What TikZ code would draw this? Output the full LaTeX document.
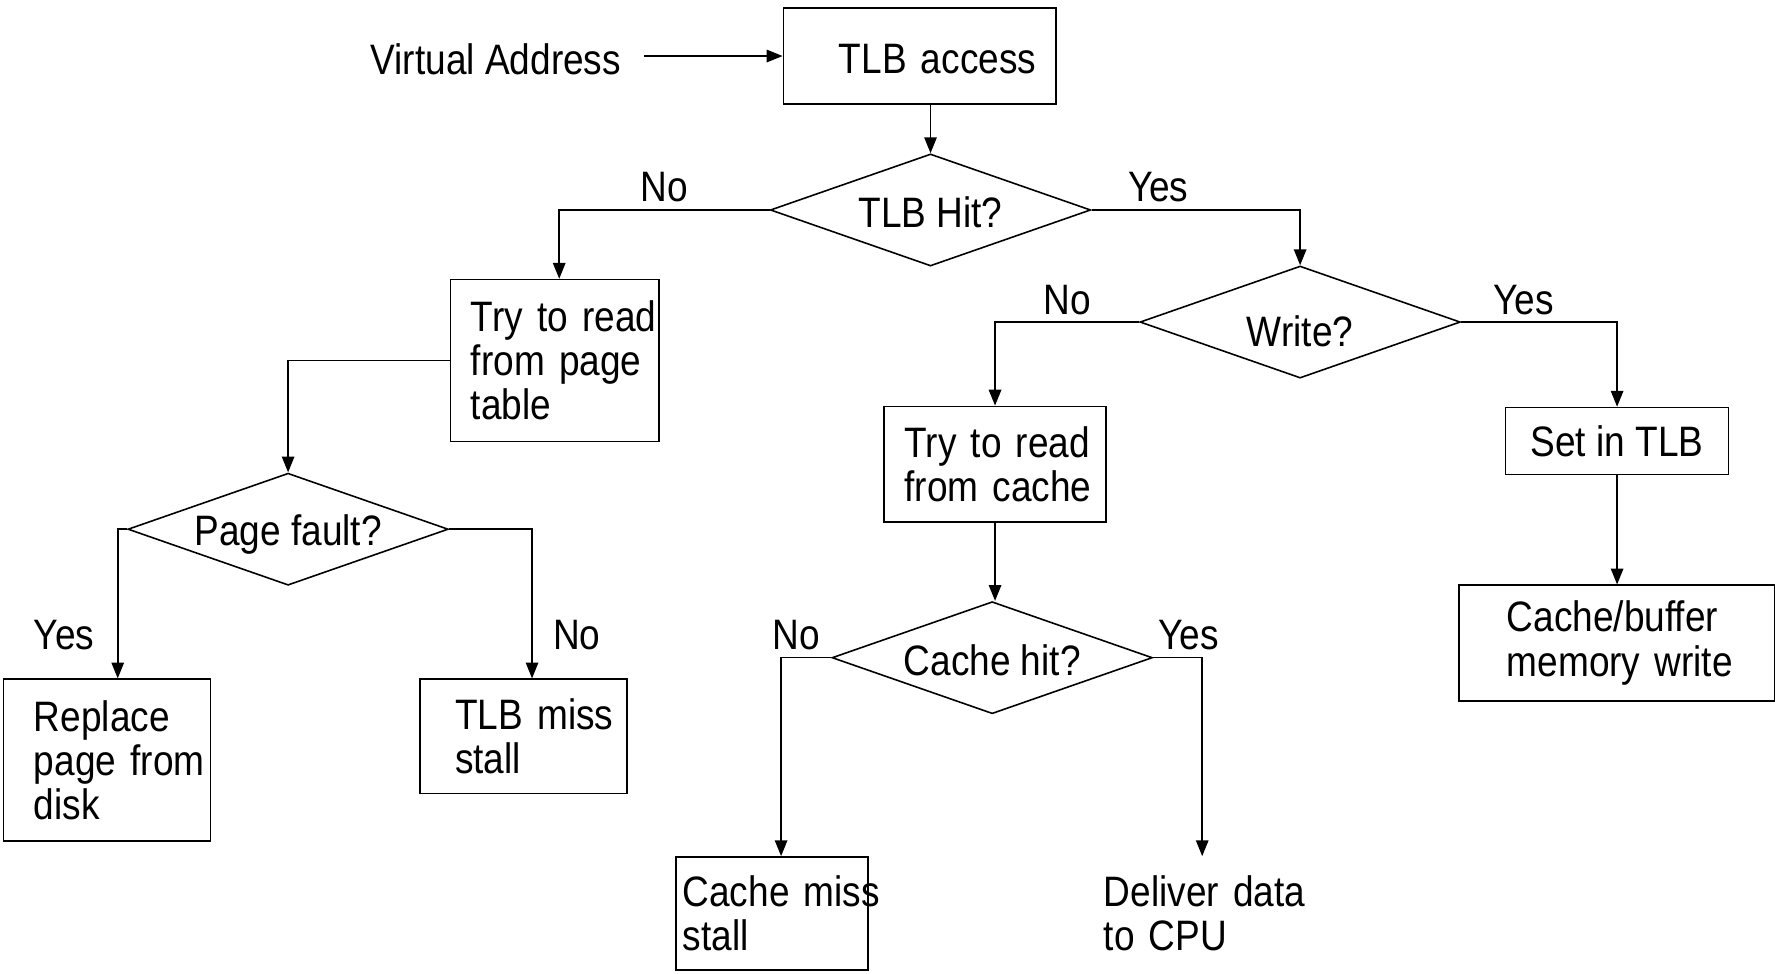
\documentclass[tikz,border=0pt]{standalone}
\usepackage{fontspec}
\setmainfont{Liberation Sans}[FakeStretch=0.87]
\usetikzlibrary{shapes.geometric,arrows.meta}
\newcommand{\lowtext}[2]{\raisebox{-#1}[\height][\depth]{#2}}
\begin{document}
\begin{tikzpicture}[x=0.5pt,y=-0.5pt,
  every node/.style={font=\fontsize{18.8}{19.5}\selectfont},
  box/.style={draw, line width=0.7pt, rectangle, align=left, inner ysep=0pt},
  dia/.style={draw, line width=0.7pt, diamond, aspect=2.85, inner sep=0pt, minimum width=141.5pt, minimum height=49.5pt},
  arr/.style={line width=0.7pt, -{Triangle[length=7pt,width=5.5pt]}},
  lbl/.style={inner sep=0pt}]
\useasboundingbox (0,0) rectangle (1568,860);

% nodes
\node[inner xsep=10pt, inner ysep=0pt] (va) at (438,52) {Virtual Address};
\node[box, minimum width=120.5pt, minimum height=42.5pt, inner xsep=24.5pt, text width=71.5pt] (tlb) at (812.5,49.5) {\lowtext{1.5pt}{\mbox{TLB access}}};
\node[dia] (th) at (822,185.5) {\lowtext{1pt}{TLB Hit?}};
\node[box, minimum height=71.5pt, inner xsep=9pt, text width=74pt] (pt) at (490,318.5) {\mbox{Try to read}\\\mbox{from page}\\table};
\node[dia] (pf) at (254.5,467.5) {\lowtext{2.5pt}{Page fault?}};
\node[box, minimum height=71.5pt, inner xsep=13.5pt, text width=64.5pt] (rd) at (94.5,671.5) {Replace\\\mbox{page from}\\disk};
\node[box, minimum height=50.5pt, inner xsep=15.5pt, text width=60.5pt] (tms) at (462.5,650.5) {\mbox{TLB miss}\\stall};
\node[dia] (wr) at (1148.5,284.5) {\lowtext{4pt}{Write?}};
\node[box, minimum height=51pt, inner xsep=9pt, text width=80pt] (rc) at (879,410) {\mbox{Try to read}\\\mbox{from cache}};
\node[dia] (ch) at (876.5,581) {\lowtext{1pt}{Cache hit?}};
\node[box, minimum height=50pt, inner xsep=3pt, text width=79pt] (cms) at (682,807) {\mbox{Cache miss}\\stall};
\node[box, draw=none, minimum height=50pt, inner xsep=0.5pt, text width=87pt] (dd) at (1062,807) {\mbox{Deliver data}\\\mbox{to CPU}};
\node[box, minimum width=98.5pt, minimum height=29.5pt, align=center] (stlb) at (1428.5,389.5) {Set in TLB};
\node[box, minimum height=51pt, inner xsep=21pt, text width=97.5pt] (cbw) at (1428.5,568) {Cache/buffer\\\mbox{memory write}};

% connectors
\draw[arr] (va.east |- tlb.west) -- (tlb.west);
\draw[arr] (tlb.south -| th.north) -- (th.north);
\draw[arr] (th.west) -| node[lbl, pos=0.25, above=3pt] {No} ([xshift=2pt]pt.north);
\draw[arr] (th.east) -| node[lbl, pos=0.16, above=3pt] {Yes} (wr.north);
\draw[arr] (pt.west) -| (pf.north);
\draw[arr] (pf.west) -| node[lbl, pos=0.856, left=10pt] {Yes} ([xshift=4.75pt]rd.north);
\draw[arr] (pf.east) -| node[lbl, pos=0.856, right=9pt] {No} ([xshift=3.75pt]tms.north);
\draw[arr] (wr.west) -| node[lbl, pos=0.25, above=3pt] {No} (rc.north);
\draw[arr] (wr.east) -| node[lbl, pos=0.2, above=3pt] {Yes} (stlb.north);
\draw[arr] (rc.south) -- (rc.south |- ch.north);
\draw[arr] (ch.west) -| node[lbl, pos=0.345, above=3pt] {No} ([xshift=4pt]cms.north);
\draw[arr] (ch.east) -| node[lbl, pos=0.36, above=3pt] {Yes} (dd.north);
\draw[arr] (stlb.south) -- (stlb.south |- cbw.north);
\end{tikzpicture}
\end{document}
